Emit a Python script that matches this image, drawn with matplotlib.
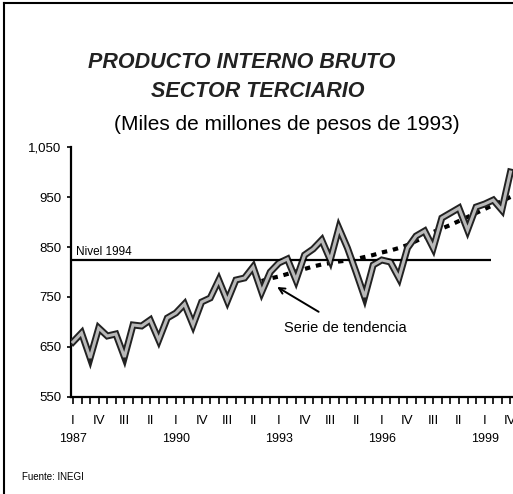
"""
PIB sector terciario, serie trimestral 1987-1999 con serie de tendencia
"""

import numpy as np
import matplotlib.pyplot as plt

plt.rcParams['font.family'] = ['Liberation Sans', 'DejaVu Sans']

# Datos trimestrales (miles de millones de pesos de 1993), 1987-I a 1999-IV
pib = [660, 678, 628, 688, 672, 676, 630, 694, 692, 704, 664, 708,
       718, 736, 694, 740, 748, 784, 742, 784, 788, 810, 760, 800,
       818, 826, 784, 834, 846, 864, 824, 888, 848, 800, 750, 814,
       824, 820, 788, 848, 872, 882, 848, 908, 918, 928, 884, 930,
       936, 944, 924, 1000]
# Serie de tendencia, visible a partir de 1992-III
tendencia_inicio = 22
tendencia = [782, 787, 791, 796, 801, 806, 811, 815, 818, 821, 823, 826,
             830, 834, 839, 843, 848, 854, 862, 870, 880, 887, 894, 902,
             910, 918, 926, 934, 942, 950]
nivel_1994 = 824
trimestres = ['I', 'IV', 'III', 'II']
anios = ['1987', '1990', '1993', '1996', '1999']
y_ticks = [550, 650, 750, 850, 950, 1050]
y_labels = ['550', '650', '750', '850', '950', '1,050']

x = np.arange(len(pib))
x_tend = np.arange(tendencia_inicio, tendencia_inicio + len(tendencia))

fig = plt.figure(figsize=(5.13, 4.94), dpi=100)
ax = fig.add_axes([0.1384, 0.1964, 0.8616, 0.506])

# Serie de tendencia (abajo) y serie original (encima)
ax.plot(x_tend, tendencia, color='black', lw=3, dashes=(1.3, 1.4), zorder=2)
ax.plot(x, pib, color='#222222', lw=5, solid_joinstyle='miter', zorder=3)
ax.plot(x, pib, color='#b8b8b8', lw=2.2, solid_joinstyle='miter', zorder=4)

# Nivel 1994
ax.hlines(nivel_1994, -0.3, 48.7, color='black', lw=1.6, zorder=3)
ax.text(0.3, nivel_1994 + 4, 'Nivel 1994', fontsize=8.5, va='bottom', ha='left')

ax.annotate('Serie de tendencia', xy=(23.8, 770), xytext=(31.8, 688),
            fontsize=10.5, ha='center', va='center',
            arrowprops=dict(arrowstyle='->', color='black', lw=1.4,
                            shrinkA=9, shrinkB=0))

ax.set_xlim(-0.23, 51.3)
ax.set_ylim(550, 1050)
ax.set_yticks(y_ticks)
ax.set_yticklabels(y_labels, fontsize=9.5)

pos = np.arange(0, len(pib), 3)
ax.set_xticks(pos)
ax.set_xticklabels([trimestres[i % 4] for i in range(len(pos))], fontsize=9.5)
ax.set_xticks(x, minor=True)
ax.tick_params(axis='x', which='both', direction='out', length=5, width=1.2, pad=8)
ax.tick_params(axis='y', direction='out', length=3, width=1.2, pad=4)

for i, a in enumerate(anios):
    ax.text(12 * i, -0.17, a, transform=ax.get_xaxis_transform(),
            fontsize=9, ha='center', va='center')

for s in ['top', 'right']:
    ax.spines[s].set_visible(False)
for s in ['left', 'bottom']:
    ax.spines[s].set_linewidth(1.6)

# Titulos
fig.text(0.471, 0.874, 'PRODUCTO INTERNO BRUTO', fontsize=15.5, fontweight='bold',
         fontstyle='italic', ha='center', va='center', color='#222222')
fig.text(0.503, 0.814, 'SECTOR TERCIARIO', fontsize=15.5, fontweight='bold',
         fontstyle='italic', ha='center', va='center', color='#222222')
fig.text(0.559, 0.747, '(Miles de millones de pesos de 1993)', fontsize=15,
         ha='center', va='center')
fig.text(0.043, 0.034, 'Fuente: INEGI', fontsize=7, ha='left', va='center')

# Marco exterior (izquierda y arriba)
fig.add_artist(plt.Line2D([0.008, 0.008], [0.0, 0.994], color='black', lw=1.5))
fig.add_artist(plt.Line2D([0.008, 1.0], [0.994, 0.994], color='black', lw=1.5))

plt.savefig('out.png', dpi=100)
